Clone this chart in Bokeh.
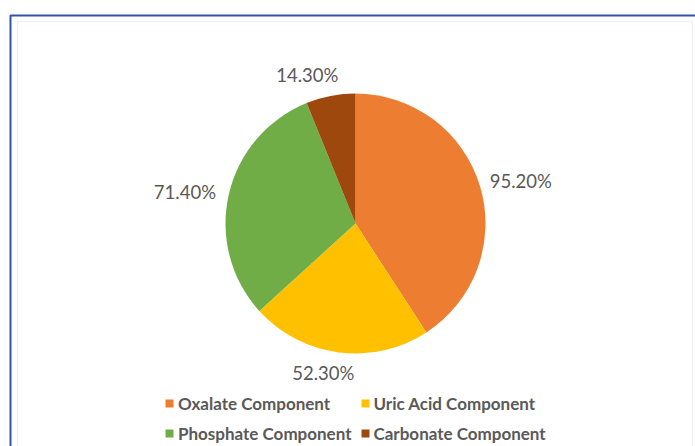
import numpy as np
from bokeh.plotting import figure
from bokeh.models import Range1d, Legend, LegendItem
from bokeh.core.properties import value
from bokeh.embed import file_html
from bokeh.resources import INLINE

# ---- data ----
categories = ["Oxalate Component", "Uric Acid Component", "Phosphate Component", "Carbonate Component"]
values = [95.20, 52.30, 71.40, 14.30]
labels = ["95.20%", "52.30%", "71.40%", "14.30%"]
colors = ["#ED7D31", "#FFC000", "#70AD47", "#9E480E"]

# ---- layout (page pixel coordinates, y measured upward from the page bottom) ----
W, H = 695, 446
CX, CY, R = 355, 223, 130
TEXT = "#595959"

p = figure(width=W, height=H, output_backend="svg", toolbar_location=None,
           x_range=Range1d(0, W), y_range=Range1d(0, H),
           min_border=0, outline_line_color=None)
p.axis.visible = False
p.grid.visible = False
p.background_fill_color = "white"
p.border_fill_color = "white"

# chart frame (blue outer border, faint inner border)
p.line([10, 10, 710], [-5, 431, 431], line_color="#2F54A8", line_width=2)
p.line([17, 17, 692, 692], [-5, 425, 425, -5], line_color="#EFEFEF", line_width=1)

vals = np.array(values, dtype=float)
frac = vals / vals.sum()
cum = np.concatenate([[0.0], np.cumsum(frac)])
start = np.pi / 2 - 2 * np.pi * cum[:-1]
end = np.pi / 2 - 2 * np.pi * cum[1:]

rend = []
for i in range(len(categories)):
    r = p.wedge(x=CX, y=CY, radius=R, start_angle=start[i], end_angle=end[i],
                direction="clock", fill_color=colors[i], line_color=None)
    rend.append(r)

# data labels (outside end)
mid = (start + end) / 2
pad = 10
for i, lab in enumerate(labels):
    c, s = np.cos(mid[i]), np.sin(mid[i])
    ax = CX + (R + pad) * c
    ay = CY + (R + pad) * s
    if c > 0.3:
        align, base = "left", "middle"
        ay += 3
    elif c < -0.3:
        align, base = "right", "middle"
        ax -= 3
    else:
        ax = CX + 1.8 * (R + pad) * c
        align = "center"
        base = "bottom" if s > 0 else "top"
    p.text(x=[ax], y=[ay], text=[lab], text_font=value("Lato"), text_font_size="18.5px",
           text_color=TEXT, text_align=align, text_baseline=base)

items = [LegendItem(label=categories[i], renderers=[rend[i]]) for i in range(len(categories))]
legend = Legend(items=items, orientation="horizontal", ncols=2,
                location=(164, 2), glyph_width=10, glyph_height=10,
                label_standoff=4, spacing=8, padding=0, margin=0,
                label_height=22,
                label_text_font="Lato", label_text_font_style="bold",
                label_text_font_size="17px", label_text_color=TEXT,
                border_line_color=None, background_fill_alpha=0)
p.add_layout(legend, "center")

open("out.html", "w").write(file_html(p, INLINE))
